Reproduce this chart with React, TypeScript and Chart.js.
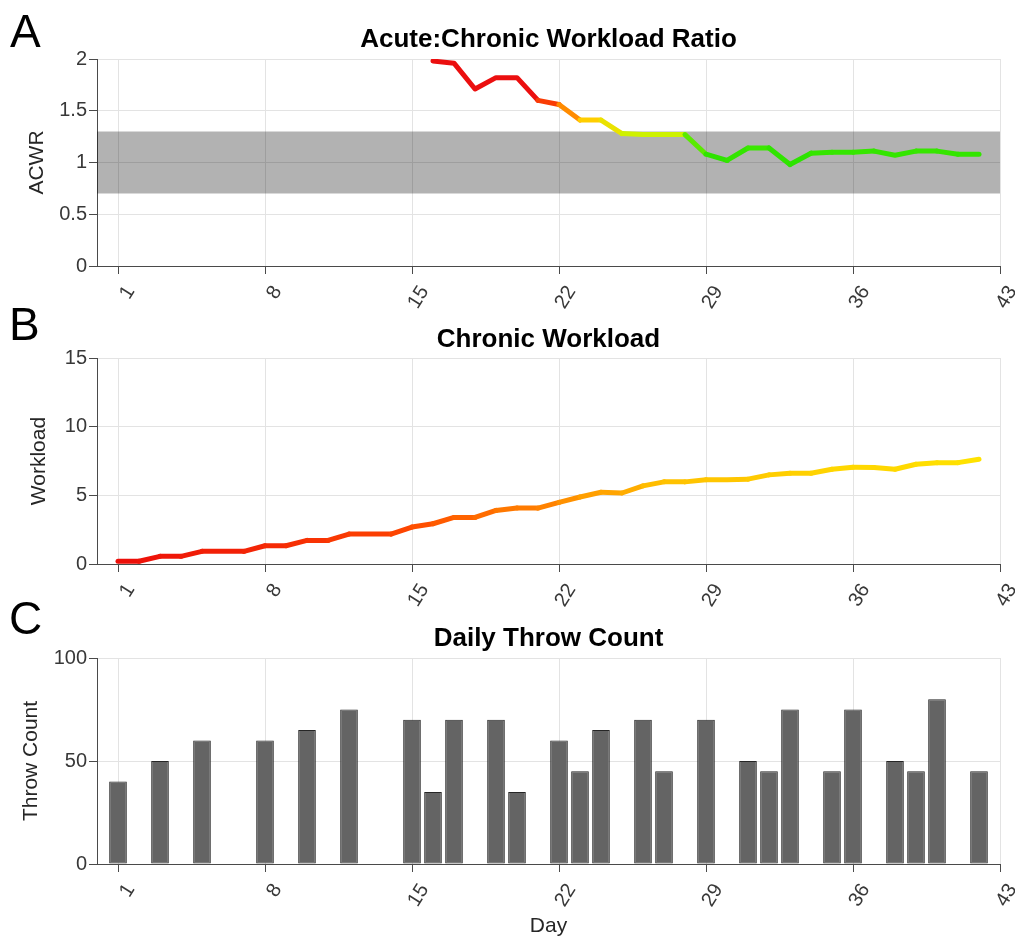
import React, { useEffect, useRef } from 'react';
import { Chart, registerables } from 'chart.js';

Chart.register(...registerables);

// ---------------- data ----------------
const xRange = [0, 43];
const xTickDays = [1, 8, 15, 22, 29, 36, 43];

const acwrYTicks = [0, 0.5, 1, 1.5, 2];
const acwrBand = [0.7, 1.3];
const acwrDays = [16, 17, 18, 19, 20, 21, 22, 23, 24, 25, 26, 27, 28, 29, 30, 31, 32, 33, 34, 35, 36, 37, 38, 39, 40, 41, 42];
const acwrValues = [1.98, 1.96, 1.71, 1.82, 1.82, 1.6, 1.56, 1.41, 1.41, 1.28, 1.27, 1.27, 1.27, 1.08, 1.02, 1.14, 1.14, 0.98, 1.09, 1.1, 1.1, 1.11, 1.07, 1.11, 1.11, 1.08, 1.08];

const chronicYTicks = [0, 5, 10, 15];
const chronicDays = [1, 2, 3, 4, 5, 6, 7, 8, 9, 10, 11, 12, 13, 14, 15, 16, 17, 18, 19, 20, 21, 22, 23, 24, 25, 26, 27, 28, 29, 30, 31, 32, 33, 34, 35, 36, 37, 38, 39, 40, 41, 42];
const chronicValues = [0.2, 0.2, 0.56, 0.56, 0.92, 0.92, 0.92, 1.33, 1.33, 1.72, 1.72, 2.18, 2.18, 2.18, 2.69, 2.93, 3.39, 3.39, 3.9, 4.07, 4.07, 4.49, 4.88, 5.22, 5.17, 5.69, 5.98, 5.98, 6.13, 6.13, 6.18, 6.49, 6.61, 6.61, 6.9, 7.05, 7.02, 6.9, 7.26, 7.38, 7.38, 7.63];

const throwYTicks = [0, 50, 100];
const throwDays = [1, 3, 5, 8, 10, 12, 15, 16, 17, 19, 20, 22, 23, 24, 26, 27, 29, 31, 32, 33, 35, 36, 38, 39, 40, 42];
const throwCounts = [40, 50, 60, 60, 65, 75, 70, 35, 70, 70, 35, 60, 45, 65, 70, 45, 70, 50, 45, 75, 45, 75, 50, 45, 80, 45];

// ---------------- styles ----------------
const FONT = '"Liberation Sans", Arial, Helvetica, sans-serif';
const TICK = '#383838';
const AXIS = '#4a4a4a';
const GRID = '#e3e3e3';

type Stop = [number, number[]];
const acwrStops: Stop[] = [
  [1.0, [40, 225, 0]],
  [1.15, [60, 232, 0]],
  [1.27, [205, 242, 0]],
  [1.4, [255, 215, 0]],
  [1.55, [255, 80, 0]],
  [1.65, [235, 15, 15]],
];
const chronicStops: Stop[] = [
  [0, [235, 10, 10]],
  [2.7, [255, 75, 0]],
  [4.5, [255, 138, 0]],
  [6, [255, 195, 0]],
  [7.6, [255, 228, 0]],
];

function colorAt(stops: Stop[], v: number): string {
  if (v <= stops[0][0]) return `rgb(${stops[0][1].join(',')})`;
  for (let i = 1; i < stops.length; i++) {
    if (v <= stops[i][0]) {
      const [v0, c0] = stops[i - 1];
      const [v1, c1] = stops[i];
      const t = (v - v0) / (v1 - v0);
      const c = c0.map((a, k) => Math.round(a + (c1[k] - a) * t));
      return `rgb(${c.join(',')})`;
    }
  }
  return `rgb(${stops[stops.length - 1][1].join(',')})`;
}

const xLabelPlugin = {
  id: 'xRotLabels',
  afterDraw(chart: any) {
    const sc = chart.scales.x;
    const ctx = chart.ctx;
    ctx.save();
    ctx.font = `20px ${FONT}`;
    ctx.fillStyle = TICK;
    ctx.textAlign = 'right';
    ctx.textBaseline = 'middle';
    xTickDays.forEach((d) => {
      const px = sc.getPixelForValue(d);
      ctx.save();
      ctx.translate(px + 12.5, sc.top + 22);
      ctx.rotate((-58 * Math.PI) / 180);
      ctx.fillText(String(d), 0, 0);
      ctx.restore();
    });
    ctx.restore();
  },
};

function xScale(height: number, title?: string) {
  return {
    type: 'linear',
    min: xRange[0],
    max: xRange[1],
    offset: false,
    afterBuildTicks: (s: any) => {
      s.ticks = xTickDays.map((v) => ({ value: v }));
    },
    afterFit: (s: any) => {
      s.height = height;
      s.paddingLeft = 0;
      s.paddingRight = 0;
    },
    ticks: { display: false, autoSkip: false },
    grid: { offset: false, color: GRID, tickColor: AXIS, tickLength: 8, lineWidth: 1 },
    border: { color: AXIS, width: 1 },
    title: title
      ? { display: true, text: title, color: '#262626', font: { family: FONT, size: 21 }, padding: { top: 0, bottom: 0 } }
      : { display: false },
  };
}

function yScale(ticks: number[], title: string, titlePad: number) {
  return {
    type: 'linear',
    min: ticks[0],
    max: ticks[ticks.length - 1],
    afterBuildTicks: (s: any) => {
      s.ticks = ticks.map((v) => ({ value: v }));
    },
    afterFit: (s: any) => {
      s.width = 97;
      s.paddingTop = 0;
      s.paddingBottom = 0;
    },
    ticks: {
      padding: 2,
      color: TICK,
      font: { family: FONT, size: 20 },
      callback: (v: any) => String(v),
    },
    grid: { color: GRID, tickColor: AXIS, tickLength: 8, lineWidth: 1 },
    border: { color: AXIS, width: 1 },
    title: {
      display: true,
      text: title,
      color: '#262626',
      font: { family: FONT, size: 21 },
      padding: { top: titlePad, bottom: 0 },
    },
  };
}

function baseOptions(
  title: string,
  padTop: number,
  tPadTop: number,
  tPadBottom: number,
  padBottom: number,
  xs: any,
  ys: any
): any {
  return {
    responsive: false,
    animation: false,
    events: [],
    layout: { padding: { top: padTop, left: 0, right: 15, bottom: padBottom } },
    plugins: {
      legend: { display: false },
      tooltip: { enabled: false },
      title: {
        display: true,
        text: title,
        fullSize: false,
        color: '#000',
        font: { family: FONT, size: 26, weight: 'bold' },
        padding: { top: tPadTop, bottom: tPadBottom },
      },
    },
    scales: { x: xs, y: ys },
  };
}

export default function App() {
  const refA = useRef<HTMLCanvasElement>(null);
  const refB = useRef<HTMLCanvasElement>(null);
  const refC = useRef<HTMLCanvasElement>(null);

  useEffect(() => {
    const chartA = new Chart(refA.current as HTMLCanvasElement, {
      type: 'line',
      data: {
        datasets: [
          {
            data: acwrDays.map((d, i) => ({ x: d, y: acwrValues[i] })),
            borderWidth: 5,
            pointRadius: 0,
            tension: 0,
            fill: false,
            borderColor: colorAt(acwrStops, 1.5),
            borderJoinStyle: 'round',
            borderCapStyle: 'round',
            segment: {
              borderColor: (c: any) => colorAt(acwrStops, (c.p0.parsed.y + c.p1.parsed.y) / 2),
            },
          },
          {
            data: xRange.map((x) => ({ x, y: acwrBand[0] })),
            borderWidth: 0,
            pointRadius: 0,
            fill: false,
          },
          {
            data: xRange.map((x) => ({ x, y: acwrBand[1] })),
            borderWidth: 0,
            pointRadius: 0,
            fill: '-1',
            backgroundColor: 'rgba(0,0,0,0.3)',
          },
        ],
      } as any,
      options: baseOptions('Acute:Chronic Workload Ratio', 0, 24.4, 3.4, 634, xScale(40), yScale(acwrYTicks, 'ACWR', 25)),
      plugins: [xLabelPlugin],
    } as any);

    const chartB = new Chart(refB.current as HTMLCanvasElement, {
      type: 'line',
      data: {
        datasets: [
          {
            data: chronicDays.map((d, i) => ({ x: d, y: chronicValues[i] })),
            borderWidth: 5,
            pointRadius: 0,
            tension: 0,
            fill: false,
            borderColor: colorAt(chronicStops, 4),
            borderJoinStyle: 'round',
            borderCapStyle: 'round',
            segment: {
              borderColor: (c: any) => colorAt(chronicStops, (c.p0.parsed.y + c.p1.parsed.y) / 2),
            },
          },
        ],
      } as any,
      options: baseOptions('Chronic Workload', 323.9, 0, 2.9, 336, xScale(40), yScale(chronicYTicks, 'Workload', 27)),
      plugins: [xLabelPlugin],
    } as any);

    const chartC = new Chart(refC.current as HTMLCanvasElement, {
      type: 'bar',
      data: {
        datasets: [
          {
            data: throwDays.map((d, i) => ({ x: d, y: throwCounts[i] })),
            backgroundColor: '#646464',
            borderColor: '#262626',
            borderWidth: 1,
            borderSkipped: false,
            barPercentage: 1,
            categoryPercentage: 0.84,
          },
        ],
      } as any,
      options: baseOptions('Daily Throw Count', 623.1, 0, 3.7, 1, xScale(75, 'Day'), yScale(throwYTicks, 'Throw Count', 19)),
      plugins: [xLabelPlugin],
    } as any);

    return () => {
      chartA.destroy();
      chartB.destroy();
      chartC.destroy();
    };
  }, []);

  const canvasStyle: React.CSSProperties = { position: 'absolute', left: 0, top: 0 };
  const letterStyle: React.CSSProperties = {
    position: 'absolute',
    fontFamily: FONT,
    fontSize: 46,
    lineHeight: 1,
    color: '#000',
  };

  return (
    <div style={{ position: 'absolute', left: 0, top: 0, width: 1015, height: 940, background: '#fff', overflow: 'hidden' }}>
      <canvas ref={refA} width={1015} height={940} style={canvasStyle} />
      <canvas ref={refB} width={1015} height={940} style={canvasStyle} />
      <canvas ref={refC} width={1015} height={940} style={canvasStyle} />
      <div style={{ ...letterStyle, left: 10, top: 8 }}>A</div>
      <div style={{ ...letterStyle, left: 9, top: 301 }}>B</div>
      <div style={{ ...letterStyle, left: 9, top: 595 }}>C</div>
    </div>
  );
}
